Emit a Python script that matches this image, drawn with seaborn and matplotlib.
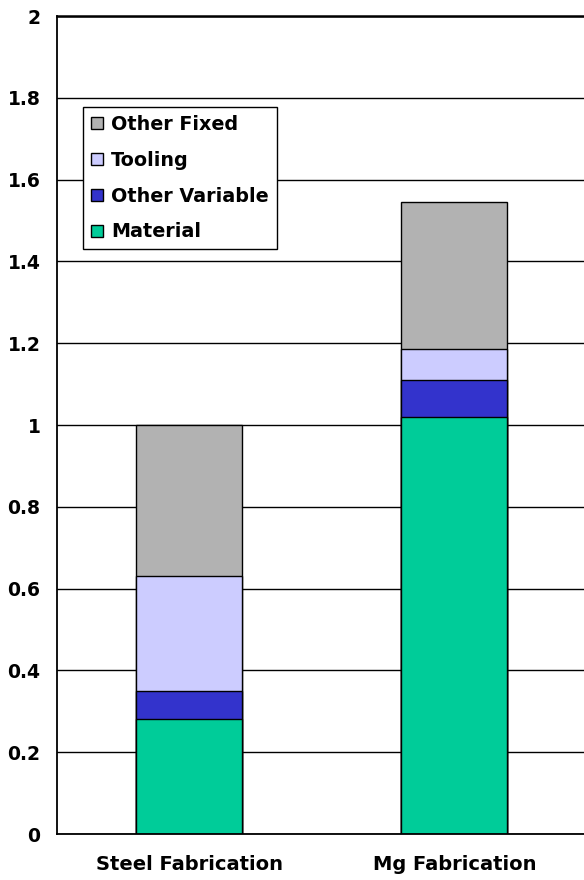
import numpy as np
import pandas as pd
import matplotlib
matplotlib.use("Agg")
import matplotlib.pyplot as plt
from matplotlib.patches import Patch
from matplotlib.ticker import FixedLocator, FuncFormatter
import seaborn as sns

# Cost breakdown per fabrication route (relative to steel = 1)
categories = ["Steel Fabrication", "Mg Fabrication"]
series_names = ["Material", "Other Variable", "Tooling", "Other Fixed"]
material = [0.28, 1.02]
other_variable = [0.07, 0.09]
tooling = [0.28, 0.075]
other_fixed = [0.37, 0.36]
colors = ["#00CC99", "#3333CC", "#CCCCFF", "#B2B2B2"]

sns.set_style("white")
plt.rcParams["font.family"] = ["DejaVu Sans"]
plt.rcParams["font.weight"] = "bold"
plt.rcParams["text.color"] = "black"

fig = plt.figure(figsize=(5.84, 8.8), dpi=100)
ax = fig.add_axes([57 / 584, 46 / 880, 530 / 584, 818 / 880])

layers = np.array([material, other_variable, tooling, other_fixed])
tops = np.cumsum(layers, axis=0)

# Stacked bars: draw the cumulative totals from the top segment down
for i in range(len(series_names) - 1, -1, -1):
    df = pd.DataFrame({"category": categories, "value": tops[i]})
    sns.barplot(data=df, x="category", y="value", color=colors[i],
                saturation=1, width=0.4, edgecolor="black", linewidth=1.0,
                ax=ax, zorder=2)

ax.set_xlim(-0.5, 1.5)
ax.set_ylim(0, 2)
ax.set_xlabel("")
ax.set_ylabel("")

# Horizontal gridlines behind the bars
ax.set_axisbelow(True)
ax.yaxis.grid(True, color="black", linewidth=1.0)
ax.xaxis.grid(False)

ax.yaxis.set_major_locator(FixedLocator(np.round(np.arange(0, 2.01, 0.2), 1)))
ax.yaxis.set_major_formatter(FuncFormatter(lambda v, p: f"{v:g}"))
ax.tick_params(axis="y", which="major", direction="out", length=5, width=1.2,
               color="black", pad=7, labelsize=13.5)
ax.tick_params(axis="x", which="major", length=0, pad=15, labelsize=14)
ax.xaxis.set_minor_locator(FixedLocator([0.5]))
ax.tick_params(axis="x", which="minor", direction="out", length=6, width=1.3,
               color="black")
for lab in ax.get_xticklabels() + ax.get_yticklabels():
    lab.set_fontweight("bold")
    lab.set_color("black")

for side in ["left", "bottom"]:
    ax.spines[side].set_color("black")
    ax.spines[side].set_linewidth(1.3)
ax.spines["right"].set_visible(False)
ax.spines["top"].set_visible(True)
ax.spines["top"].set_color("black")
ax.spines["top"].set_linewidth(1.8)

handles = [Patch(facecolor=colors[i], edgecolor="black", linewidth=1.0,
                 label=series_names[i])
           for i in range(len(series_names) - 1, -1, -1)]
leg = ax.legend(handles=handles, loc="upper left",
                bbox_to_anchor=(0.049, 0.889), borderaxespad=0,
                frameon=True, fancybox=False, framealpha=1,
                edgecolor="black", prop={"size": 13.8, "weight": "bold"},
                labelcolor="black",
                handlelength=0.6, handleheight=0.6, handletextpad=0.45,
                labelspacing=0.88, borderpad=0.42)
leg.get_frame().set_linewidth(1.0)
leg.set_zorder(5)

fig.savefig("out.png", dpi=100)
